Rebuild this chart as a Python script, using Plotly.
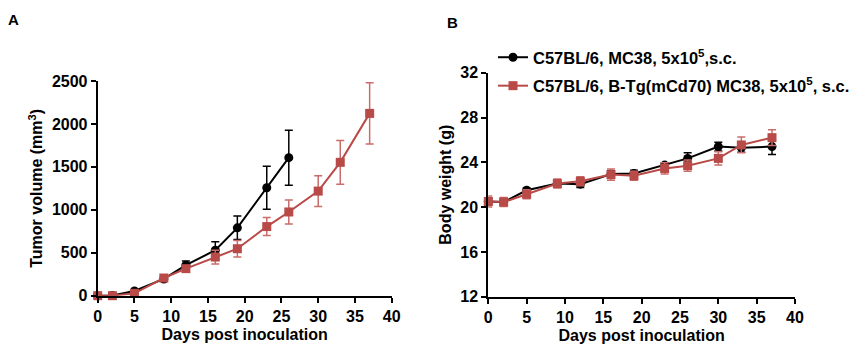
import plotly.graph_objects as go

# ---- data ----
days_ctrl = [0, 2, 5, 9, 12, 16, 19, 23, 26]
tumor_ctrl = [0, 2, 55, 195, 355, 530, 790, 1257, 1607]
tumor_ctrl_err = [0, 0, 10, 20, 50, 97, 137, 250, 320]

days_tg = [0, 2, 5, 9, 12, 16, 19, 23, 26, 30, 33, 37]
tumor_tg = [0, 0, 28, 206, 315, 450, 547, 805, 975, 1218, 1553, 2123]
tumor_tg_err = [0, 0, 10, 20, 30, 80, 95, 105, 140, 178, 255, 357]

days_bw_ctrl = [0, 2, 5, 9, 12, 16, 19, 23, 26, 30, 33, 37]
bw_ctrl = [20.5, 20.45, 21.5, 22.1, 22.05, 22.95, 23.0, 23.75, 24.35, 25.4, 25.3, 25.4]
bw_ctrl_err = [0.3, 0.3, 0.2, 0.3, 0.3, 0.3, 0.3, 0.2, 0.5, 0.4, 0.4, 0.7]

days_bw_tg = [0, 2, 5, 9, 12, 16, 19, 23, 26, 30, 33, 37]
bw_tg = [20.5, 20.45, 21.15, 22.1, 22.3, 22.9, 22.8, 23.45, 23.7, 24.35, 25.55, 26.2]
bw_tg_err = [0.5, 0.4, 0.4, 0.4, 0.4, 0.5, 0.4, 0.5, 0.5, 0.6, 0.7, 0.7]

label_ctrl = "C57BL/6, MC38, 5x10<sup>5</sup>,s.c."
label_tg = "C57BL/6, B-Tg(mCd70) MC38, 5x10<sup>5</sup>, s.c."

x_ticks = [0, 5, 10, 15, 20, 25, 30, 35, 40]
yA_ticks = [0, 500, 1000, 1500, 2000, 2500]
yB_ticks = [12, 16, 20, 24, 28, 32]

BLACK = "#000000"
RED = "#B84A48"
RED_ERR = "#C96C6A"
FONT = "Liberation Sans"

# page body has an 8px margin; figure sized to fit the window
OFF = 8
W, H = 868 - 2 * OFF, 359 - 2 * OFF

def px(x):
    return (x - OFF) / W

def py(y):
    return 1 - (y - OFF) / H

fig = go.Figure()

def add(x, y, e, color, ecolor, symbol, name, xa, ya, showlegend, group):
    fig.add_trace(go.Scatter(
        x=x, y=y, mode="lines+markers", name=name, legendgroup=group,
        line=dict(color=color, width=2),
        marker=dict(symbol=symbol, size=9, color=color),
        error_y=dict(type="data", array=e, visible=True, color=ecolor,
                     thickness=1.5, width=4),
        xaxis=xa, yaxis=ya, showlegend=showlegend, cliponaxis=False,
    ))

add(days_ctrl, tumor_ctrl, tumor_ctrl_err, BLACK, BLACK, "circle", label_ctrl, "x", "y", False, "a")
add(days_tg, tumor_tg, tumor_tg_err, RED, RED_ERR, "square", label_tg, "x", "y", False, "b")
add(days_bw_ctrl, bw_ctrl, bw_ctrl_err, BLACK, BLACK, "circle", label_ctrl, "x2", "y2", True, "a")
add(days_bw_tg, bw_tg, bw_tg_err, RED, RED_ERR, "square", label_tg, "x2", "y2", True, "b")

axis_common = dict(
    showline=True, linecolor="black", linewidth=2, ticks="outside",
    ticklen=5, tickwidth=2, tickcolor="black", showgrid=False, zeroline=False,
    automargin=False,
    tickfont=dict(family=FONT, size=16, color="black", weight="bold"),
)
title_font = dict(family=FONT, size=16, color="black", weight="bold")

fig.update_layout(
    width=W, height=H, margin=dict(l=0, r=0, t=0, b=0, autoexpand=False),
    paper_bgcolor="white", plot_bgcolor="white",
    font=dict(family=FONT, color="black"),
    xaxis=dict(domain=[px(97.7), px(391.7)], range=[0, 40], tickvals=x_ticks,
               anchor="y", title=dict(text="<b>Days post inoculation</b>", font=title_font, standoff=5),
               **axis_common),
    yaxis=dict(domain=[py(295.7), py(81)], range=[0, 2500], tickvals=yA_ticks,
               anchor="x", title=dict(text="<b>Tumor volume (mm<sup>3</sup>)</b>", font=title_font, standoff=5),
               **axis_common),
    xaxis2=dict(domain=[px(488.3), px(795)], range=[0, 40], tickvals=x_ticks,
                anchor="y2", title=dict(text="<b>Days post inoculation</b>", font=title_font, standoff=5),
                **axis_common),
    yaxis2=dict(domain=[py(296.7), py(72.7)], range=[12, 32], tickvals=yB_ticks,
                anchor="x2", title=dict(text="<b>Body weight (g)</b>", font=title_font, standoff=5),
                **axis_common),
    legend=dict(x=px(493), y=py(40), xanchor="left", yanchor="top",
                font=dict(family=FONT, size=16.5, color="black", weight="bold"),
                bgcolor="rgba(0,0,0,0)", tracegroupgap=4, itemwidth=30),
    annotations=[
        dict(text="<b>A</b>", x=px(6), y=py(20), xref="paper", yref="paper",
             showarrow=False, xanchor="left", yanchor="middle",
             font=dict(family=FONT, size=15, color="black")),
        dict(text="<b>B</b>", x=px(445), y=py(22), xref="paper", yref="paper",
             showarrow=False, xanchor="left", yanchor="middle",
             font=dict(family=FONT, size=15, color="black")),
    ],
)

fig.write_html("out.html")
